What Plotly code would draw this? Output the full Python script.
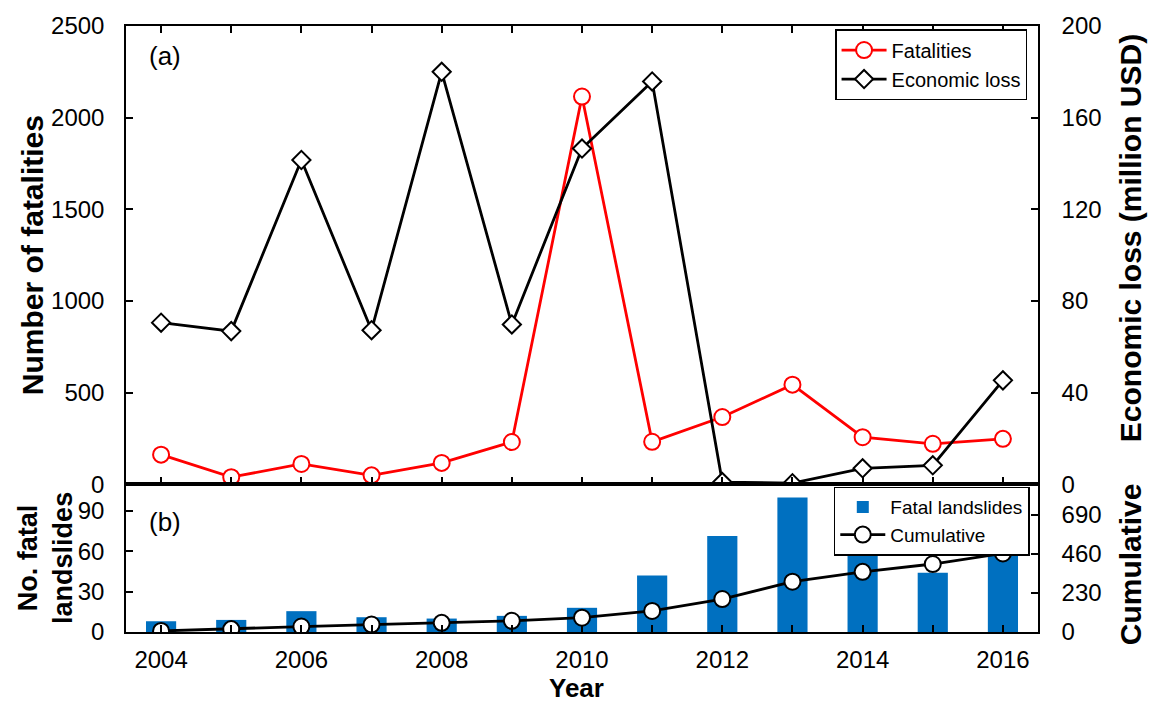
import plotly.graph_objects as go

years = list(range(2004, 2017))
fatalities = [161, 38, 110, 48, 116, 230, 2115, 231, 366, 543, 256, 220, 247]
economic_loss = [70.5, 66.8, 141.5, 67.2, 180.0, 69.7, 146.5, 175.8, 0.9, 0.4, 6.9, 8.2, 45.3]
fatal_landslides = [8, 9, 15.5, 11, 10, 12, 18, 42, 71.5, 100, 62, 44, 60]
cumulative = [6, 17, 32, 44, 54, 66, 84, 124, 194, 296, 354, 400, 462]
x_ticktext = ["2004", "", "2006", "", "2008", "", "2010", "", "2012", "", "2014", "", "2016"]

FONT = "Liberation Sans, Arial, sans-serif"
TICKF = dict(family=FONT, size=24, color="black")

fig = go.Figure()

fig.add_trace(go.Scatter(
    x=years, y=fatalities, name="Fatalities", mode="lines+markers",
    line=dict(color="#FF0000", width=2.8),
    marker=dict(symbol="circle", size=16, color="white", line=dict(color="#FF0000", width=2)),
    xaxis="x", yaxis="y", legend="legend"))
fig.add_trace(go.Scatter(
    x=years, y=economic_loss, name="Economic loss", mode="lines+markers",
    line=dict(color="black", width=2.8),
    marker=dict(symbol="diamond", size=14, color="white", line=dict(color="black", width=2)),
    xaxis="x", yaxis="y2", legend="legend"))
fig.add_trace(go.Bar(
    x=years, y=fatal_landslides, name="Fatal landslides", width=0.43,
    marker=dict(color="#0070C0", line=dict(width=0)),
    xaxis="x2", yaxis="y3", legend="legend2"))
fig.add_trace(go.Scatter(
    x=years, y=cumulative, name="Cumulative", mode="lines+markers",
    line=dict(color="black", width=2.8),
    marker=dict(symbol="circle", size=16, color="white", line=dict(color="black", width=2)),
    xaxis="x2", yaxis="y4", legend="legend2"))

split = 0.244
axcommon = dict(showline=True, linecolor="black", linewidth=1.5, ticks="inside",
                tickcolor="black", tickwidth=1.5, ticklen=7, showgrid=False, zeroline=False,
                tickfont=TICKF)

LEGF = dict(family=FONT, size=20, color="black")
fig.update_layout(
    width=1151, height=703,
    margin=dict(l=126, r=113, t=17, b=71),
    paper_bgcolor="white", plot_bgcolor="white",
    font=dict(family=FONT, color="black"),
    barmode="overlay",
    xaxis=dict(domain=[0, 1], anchor="y", range=[2003.5, 2016.5], tickvals=years,
               showticklabels=False, mirror="ticks", **axcommon),
    xaxis2=dict(domain=[0, 1], anchor="y3", range=[2003.5, 2016.5], tickvals=years,
                ticktext=x_ticktext, mirror=True, ticklabelstandoff=5, **axcommon),
    yaxis=dict(domain=[split, 1], anchor="x", range=[0, 2500], dtick=500,
               ticklabelstandoff=15, **axcommon),
    yaxis2=dict(overlaying="y", anchor="x", side="right", range=[0, 200], dtick=40,
                ticklabelstandoff=17, **axcommon),
    yaxis3=dict(domain=[0, split], anchor="x2", range=[0, 110], tickvals=[0, 30, 60, 90],
                ticklabelstandoff=15, **axcommon),
    yaxis4=dict(overlaying="y3", anchor="x2", side="right", range=[0, 870],
                tickvals=[0, 230, 460, 690], ticklabelstandoff=17, **axcommon),
    legend=dict(x=0.988, y=0.995, xanchor="right", yanchor="top", itemwidth=45,
                bordercolor="black", borderwidth=1.5, bgcolor="white",
                font=LEGF, tracegroupgap=0),
    legend2=dict(x=0.991, y=0.24, xanchor="right", yanchor="top", itemwidth=45,
                 bordercolor="black", borderwidth=1.5, bgcolor="white",
                 font=dict(family=FONT, size=19, color="black"), tracegroupgap=0),
    showlegend=True,
)

TITLEF = dict(family=FONT, size=30, color="black")
ann = [
    dict(text="<b>Number of fatalities</b>", x=-0.103, y=0.622, textangle=-90, font=TITLEF),
    dict(text="<b>No. fatal<br>landslides</b>", x=-0.089, y=0.122, textangle=-90,
         font=dict(family=FONT, size=27, color="black")),
    dict(text="<b>Economic loss (million USD)</b>", x=1.101, y=0.65, textangle=-90, font=TITLEF),
    dict(text="<b>Cumulative</b>", x=1.101, y=0.112, textangle=-90, font=TITLEF),
    dict(text="<b>Year</b>", x=0.4945, y=-0.093, font=dict(family=FONT, size=26, color="black")),
    dict(text="(a)", x=0.043, y=0.951, font=dict(family=FONT, size=26, color="black")),
    dict(text="(b)", x=0.043, y=0.182, font=dict(family=FONT, size=26, color="black")),
]
for a in ann:
    fig.add_annotation(xref="paper", yref="paper", showarrow=False,
                       xanchor="center", yanchor="middle", **a)

fig.write_html("out.html")
